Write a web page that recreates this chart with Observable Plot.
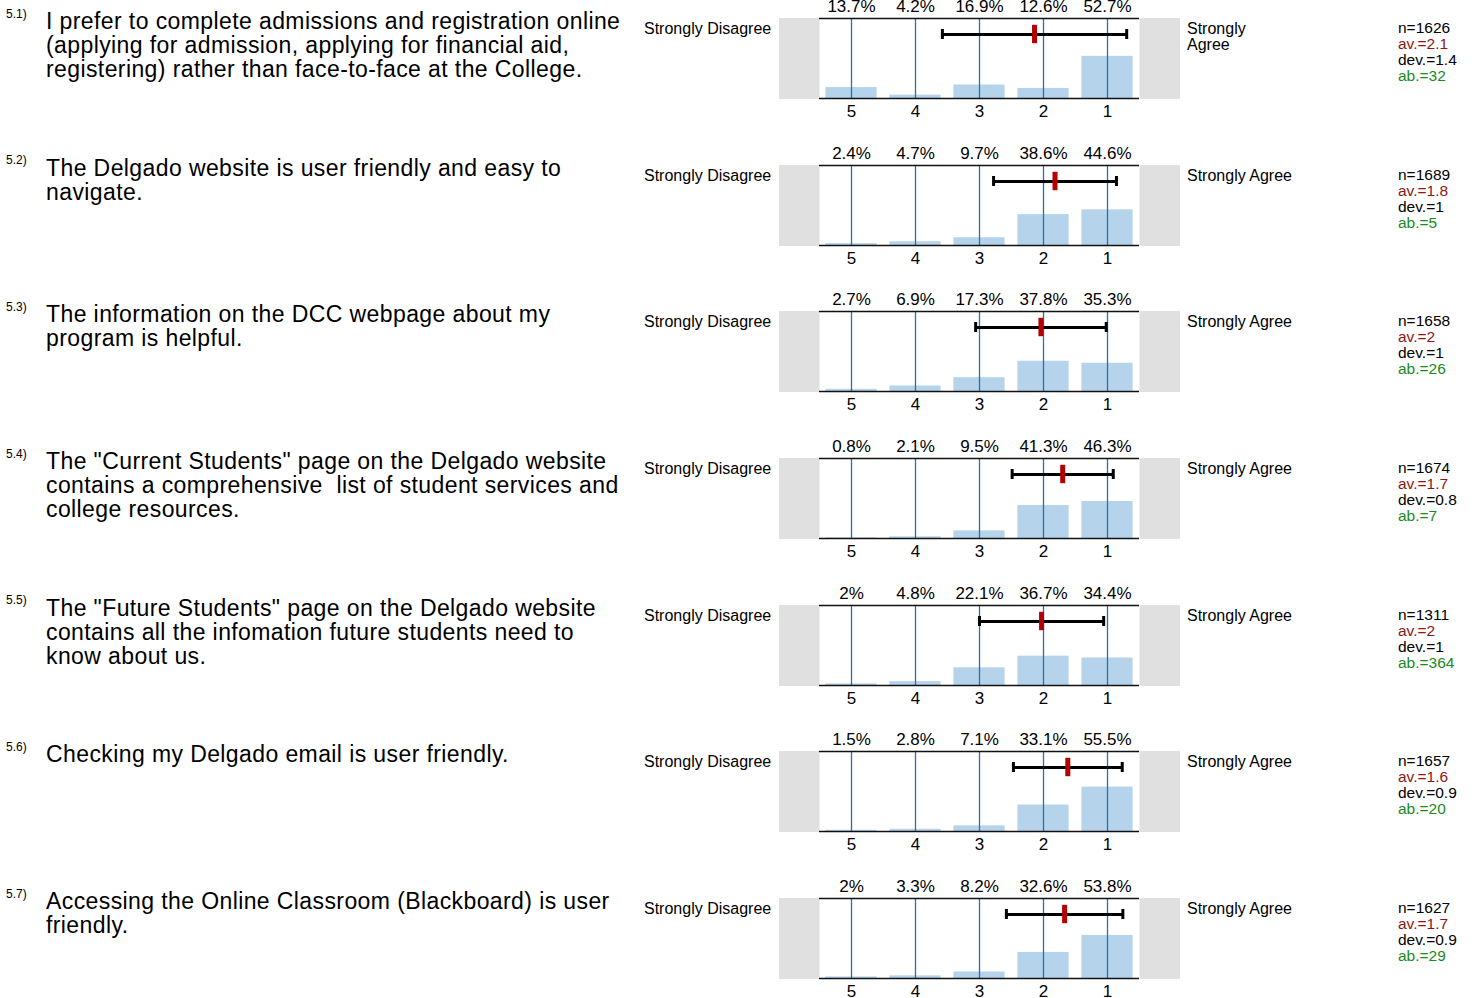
<!DOCTYPE html>
<html>
<head>
<meta charset="utf-8">
<script src="https://cdn.jsdelivr.net/npm/d3@7"></script>
<script src="https://cdn.jsdelivr.net/npm/@observablehq/plot@0.6"></script>
<style>
  html, body { margin: 0; padding: 0; background: white; }
  #root { position: relative; width: 1476px; height: 998px; overflow: hidden; font-family: "Liberation Sans", Arial, sans-serif; color: #000; }
  .abs { position: absolute; white-space: pre; }
  .qnum { font-size: 12px; line-height: 12px; }
  .qtext { font-size: 23px; line-height: 24px; letter-spacing: 0.4px; }
  .side { font-size: 16px; line-height: 16px; }
  .stats { font-size: 15.5px; line-height: 16px; }
  .gray { background: #e0e0e0; }
</style>
</head>
<body>
<div id="root"></div>
<script>
const qNums = ["5.1)", "5.2)", "5.3)", "5.4)", "5.5)", "5.6)", "5.7)"];
const questions = [
  "I prefer to complete admissions and registration online\n(applying for admission, applying for financial aid,\nregistering) rather than face-to-face at the College.",
  "The Delgado website is user friendly and easy to\nnavigate.",
  "The information on the DCC webpage about my\nprogram is helpful.",
  "The \"Current Students\" page on the Delgado website\ncontains a comprehensive  list of student services and\ncollege resources.",
  "The \"Future Students\" page on the Delgado website\ncontains all the infomation future students need to\nknow about us.",
  "Checking my Delgado email is user friendly.",
  "Accessing the Online Classroom (Blackboard) is user\nfriendly."
];
const levels = [5, 4, 3, 2, 1];
const percents = [
  [13.7, 4.2, 16.9, 12.6, 52.7],
  [2.4, 4.7, 9.7, 38.6, 44.6],
  [2.7, 6.9, 17.3, 37.8, 35.3],
  [0.8, 2.1, 9.5, 41.3, 46.3],
  [2, 4.8, 22.1, 36.7, 34.4],
  [1.5, 2.8, 7.1, 33.1, 55.5],
  [2, 3.3, 8.2, 32.6, 53.8]
];
const means = [2.14, 1.82, 2.04, 1.70, 2.03, 1.62, 1.67];
const devs = [1.44, 0.96, 1.02, 0.79, 0.97, 0.85, 0.91];
const nLabels = ["1626", "1689", "1658", "1674", "1311", "1657", "1627"];
const avLabels = ["2.1", "1.8", "2", "1.7", "2", "1.6", "1.7"];
const devLabels = ["1.4", "1", "1", "0.8", "1", "0.9", "0.9"];
const abLabels = ["32", "5", "26", "7", "364", "20", "29"];
const leftLabels = Array(7).fill("Strongly Disagree");
const rightLabels = ["Strongly\nAgree", "Strongly Agree", "Strongly Agree", "Strongly Agree", "Strongly Agree", "Strongly Agree", "Strongly Agree"];

const root = document.getElementById("root");
const ROW = 146.67, FIRST = 18;
const ERR_Y = 80; // y (percent units) of the error bar, 16px below the top

function add(cls, left, top, html, style) {
  const d = document.createElement("div");
  d.className = "abs " + cls;
  d.style.left = left + "px";
  d.style.top = top + "px";
  if (style) Object.assign(d.style, style);
  d.innerHTML = html;
  root.appendChild(d);
  return d;
}
function esc(s) { return s.replace(/&/g, "&amp;").replace(/</g, "&lt;"); }

questions.forEach((q, i) => {
  const T = FIRST + ROW * i;
  add("qnum", 6, T - 10.5, esc(qNums[i]));
  add("qtext", 46, T - 9, esc(q));
  add("side", 644, T + 3, esc(leftLabels[i]));
  add("side", 1187, T + 3, esc(rightLabels[i]));
  add("stats", 1398, T + 2,
    `n=${nLabels[i]}\n<span style="color:#8e1616">av.=${avLabels[i]}</span>\ndev.=${devLabels[i]}\n<span style="color:#1c8a1c">ab.=${abLabels[i]}</span>`);
  add("gray", 779, T, "", {width: "401px", height: "81px"});

  const rows = levels.map((v, j) => ({v, pct: percents[i][j]}));
  const m = means[i], sd = devs[i];
  const chart = Plot.plot({
    width: 401,
    height: 24 + 80 + 22,
    marginTop: 24,
    marginBottom: 22,
    marginLeft: 40,
    marginRight: 41,
    style: {background: "transparent", fontFamily: "'Liberation Sans', Arial, sans-serif", fontSize: "17px", color: "#000", overflow: "visible"},
    x: {type: "linear", domain: [5.5, 0.5]},
    y: {domain: [0, 100], axis: null},
    marks: [
      Plot.frame({fill: "white", stroke: null}),
      Plot.rectY(rows, {x1: d => d.v - 0.4, x2: d => d.v + 0.4, y: "pct", fill: "#b5d4ec"}),
      Plot.ruleX(levels, {stroke: "#2a6cb5", strokeWidth: 1.3}),
      Plot.ruleY([0, 100], {stroke: "#111", strokeWidth: 1.6}),
      Plot.text(rows, {x: "v", text: d => d.pct + "%", frameAnchor: "top", lineAnchor: "bottom", dy: -6.5, fontSize: 17, fill: "#000", letterSpacing: 0.5}),
      Plot.axisX({ticks: levels, tickSize: 0, tickPadding: 6, tickFormat: d => String(d), label: null, fontSize: 17, fill: "#000"}),
      Plot.ruleY([m], {y: () => ERR_Y, x1: m - sd, x2: m + sd, stroke: "#000", strokeWidth: 3}),
      Plot.ruleX([m - sd, m + sd], {y1: ERR_Y - 6.25, y2: ERR_Y + 6.25, stroke: "#000", strokeWidth: 3}),
      Plot.ruleX([m], {y1: ERR_Y - 11.5, y2: ERR_Y + 11.5, stroke: "#b30000", strokeWidth: 5})
    ]
  });
  chart.style.position = "absolute";
  chart.style.left = "779px";
  chart.style.top = (T - 24) + "px";
  root.appendChild(chart);
});
</script>
</body>
</html>
